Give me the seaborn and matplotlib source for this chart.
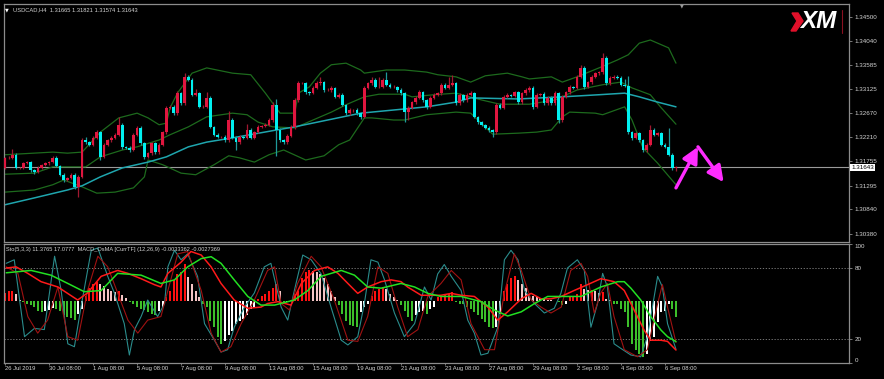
import numpy as np
import pandas as pd
import seaborn as sns
import matplotlib.pyplot as plt
from matplotlib.lines import Line2D
from matplotlib.patches import Polygon

# ---------------- price panel (USDCAD, H4) ----------------
first_open = 1.3163
close = [
    1.3182, 1.3182, 1.3188, 1.3163, 1.3163, 1.3172, 1.3174, 1.3159, 1.3155, 1.3163,
    1.3169, 1.3172, 1.3174, 1.3182, 1.3167, 1.3150, 1.3140, 1.3144, 1.3150, 1.3127,
    1.3146, 1.3216, 1.3212, 1.3207, 1.3220, 1.3231, 1.3184, 1.3207, 1.3216, 1.3220,
    1.3226, 1.3245, 1.3203, 1.3201, 1.3197, 1.3226, 1.3239, 1.3210, 1.3184, 1.3191,
    1.3210, 1.3193, 1.3207, 1.3231, 1.3277, 1.3279, 1.3267, 1.3305, 1.3286, 1.3336,
    1.3330, 1.3302, 1.3305, 1.3279, 1.3279, 1.3296, 1.3241, 1.3226, 1.3222, 1.3222,
    1.3216, 1.3254, 1.3220, 1.3212, 1.3222, 1.3220, 1.3235, 1.3220, 1.3231, 1.3241,
    1.3243, 1.3245, 1.3254, 1.3283, 1.3235, 1.3216, 1.3212, 1.3224, 1.3241, 1.3292,
    1.3324, 1.3324, 1.3307, 1.3305, 1.3315, 1.3324, 1.3326, 1.3311, 1.3311, 1.3315,
    1.3298, 1.3302, 1.3283, 1.3267, 1.3273, 1.3273, 1.3267, 1.3260, 1.3315, 1.3324,
    1.3330, 1.3317, 1.3317, 1.3330, 1.3321, 1.3317, 1.3317, 1.3311, 1.3305, 1.3269,
    1.3277, 1.3288, 1.3296, 1.3307, 1.3292, 1.3279, 1.3296, 1.3302, 1.3305, 1.3321,
    1.3315, 1.3321, 1.3324, 1.3286, 1.3302, 1.3292, 1.3302, 1.3305, 1.3260, 1.3250,
    1.3245, 1.3239, 1.3235, 1.3231, 1.3283, 1.3277, 1.3298, 1.3302, 1.3300, 1.3307,
    1.3288, 1.3305, 1.3311, 1.3315, 1.3279, 1.3302, 1.3304, 1.3286, 1.3296, 1.3286,
    1.3305, 1.3254, 1.3298, 1.3307, 1.3317, 1.3315, 1.3336, 1.3353, 1.3317, 1.3326,
    1.3336, 1.3343, 1.3345, 1.3372, 1.3324, 1.3334, 1.3336, 1.3334, 1.3321, 1.3319,
    1.3231, 1.3220, 1.3229, 1.3216, 1.3197, 1.3207, 1.3235, 1.3226, 1.3229, 1.3207,
    1.3203, 1.3188, 1.3163, 1.31643]
# wick lengths in pips above / below the candle body
wick_up = [
    2, 3, 10, 3, 2, 3, 2, 3, 2, 3, 2, 3, 2, 4, 3, 2, 3, 2, 3, 4,
    3, 4, 6, 3, 3, 4, 3, 3, 2, 3, 3, 15, 3, 2, 3, 3, 4, 3, 2, 3,
    3, 2, 3, 3, 4, 3, 3, 4, 3, 8, 4, 3, 8, 3, 3, 12, 3, 2, 3, 2,
    3, 18, 3, 3, 4, 3, 12, 3, 3, 3, 2, 3, 3, 5, 10, 3, 2, 3, 3, 4,
    4, 3, 3, 2, 3, 4, 10, 3, 3, 3, 2, 3, 3, 2, 3, 2, 3, 3, 4, 3,
    6, 3, 18, 3, 15, 3, 3, 2, 3, 3, 3, 3, 3, 4, 3, 2, 3, 3, 3, 4,
    3, 15, 15, 3, 3, 2, 3, 4, 3, 2, 3, 2, 3, 2, 4, 3, 3, 3, 2, 3,
    3, 3, 3, 4, 3, 3, 2, 3, 3, 3, 4, 3, 3, 3, 3, 2, 4, 5, 3, 3,
    3, 3, 3, 10, 3, 3, 3, 3, 3, 10, 18, 3, 3, 3, 2, 3, 10, 4, 3, 3,
    3, 35, 3, 3]
wick_dn = [
    3, 2, 3, 3, 2, 3, 2, 3, 3, 2, 3, 2, 3, 2, 3, 3, 3, 2, 3, 4,
    20, 3, 3, 3, 2, 3, 6, 3, 2, 3, 3, 3, 4, 3, 3, 2, 3, 3, 4, 3,
    3, 3, 3, 3, 3, 2, 3, 3, 3, 3, 2, 3, 3, 3, 3, 3, 3, 3, 3, 3,
    3, 3, 3, 15, 3, 3, 3, 3, 3, 2, 3, 2, 3, 3, 50, 3, 4, 3, 3, 4,
    3, 2, 3, 3, 2, 3, 3, 3, 2, 3, 3, 3, 3, 4, 3, 3, 3, 4, 3, 3,
    3, 3, 3, 3, 3, 3, 3, 3, 4, 18, 15, 3, 3, 3, 3, 4, 3, 3, 3, 3,
    3, 3, 3, 4, 3, 3, 3, 3, 3, 3, 3, 3, 4, 10, 3, 3, 3, 3, 3, 3,
    3, 3, 3, 3, 4, 3, 3, 3, 3, 3, 3, 6, 3, 3, 3, 3, 3, 3, 4, 3,
    3, 3, 3, 3, 3, 3, 3, 3, 3, 3, 3, 4, 3, 3, 4, 3, 3, 3, 3, 3,
    3, 3, 4, 5]

# Bollinger bands (20) and slow moving average, read at knots (bar index, price)
bb_up_x = [0, 13, 17, 21, 26, 31, 36, 39, 42, 44, 45, 47, 51, 55, 62, 67, 71, 75, 79, 80,
           83, 86, 89, 93, 97, 98, 104, 109, 115, 118, 123, 127, 131, 137, 141, 143, 149, 152,
           156, 162, 167, 170, 173, 176, 181, 183]
bb_up = [1.3188, 1.3193, 1.3191, 1.3193, 1.3231, 1.3258, 1.3267, 1.3258, 1.3245, 1.3248,
         1.3277, 1.3305, 1.3343, 1.3353, 1.3343, 1.3340, 1.3305, 1.3267, 1.3267, 1.3305,
         1.3317, 1.3343, 1.3359, 1.3362, 1.3349, 1.3343, 1.3349, 1.3349, 1.3345, 1.3340,
         1.3336, 1.3326, 1.3338, 1.3343, 1.3336, 1.3332, 1.3336, 1.3326, 1.3336, 1.3353,
         1.3368, 1.3378, 1.3400, 1.3406, 1.3391, 1.3362]
bb_mid_x = [0, 8, 13, 22, 26, 32, 36, 42, 45, 50, 55, 62, 66, 69, 73, 79, 84, 89, 93, 98,
            102, 109, 111, 117, 123, 130, 135, 143, 150, 156, 163, 168, 171, 176, 179, 183]
bb_mid = [1.3151, 1.3153, 1.3165, 1.3165, 1.3184, 1.3197, 1.3203, 1.3216, 1.3226, 1.3241,
          1.3260, 1.3267, 1.3264, 1.3250, 1.3241, 1.3239, 1.3254, 1.3269, 1.3283, 1.3298,
          1.3303, 1.3303, 1.3298, 1.3302, 1.3305, 1.3292, 1.3284, 1.3284, 1.3292, 1.3311,
          1.3321, 1.3326, 1.3315, 1.3302, 1.3277, 1.3246]
bb_lo_x = [0, 8, 13, 16, 21, 25, 30, 35, 38, 39, 43, 48, 52, 57, 61, 64, 68, 72, 76, 82,
           87, 91, 94, 98, 100, 106, 109, 115, 123, 127, 133, 140, 145, 149, 152, 154, 161,
           163, 169, 171, 174, 178, 183]
bb_lo = [1.3117, 1.3121, 1.3131, 1.3140, 1.3127, 1.3115, 1.3117, 1.3125, 1.3146, 1.3178,
         1.3169, 1.3153, 1.3150, 1.3169, 1.3186, 1.3182, 1.3174, 1.3188, 1.3197, 1.3178,
         1.3186, 1.3207, 1.3216, 1.3258, 1.3258, 1.3254, 1.3254, 1.3264, 1.3269, 1.3267,
         1.3227, 1.3229, 1.3231, 1.3235, 1.3260, 1.3269, 1.3267, 1.3264, 1.3279, 1.3254,
         1.3201, 1.3172, 1.3131]
ma_x = [0, 8, 17, 21, 26, 32, 39, 44, 50, 55, 62, 74, 79, 88, 97, 106, 115, 123, 127, 140,
        152, 162, 169, 173, 178, 183]
ma = [1.3093, 1.3106, 1.3121, 1.3129, 1.3146, 1.3163, 1.3174, 1.3184, 1.3203, 1.3212,
      1.3220, 1.3235, 1.3241, 1.3254, 1.3267, 1.3273, 1.3279, 1.3288, 1.3296, 1.3294,
      1.3298, 1.3302, 1.3305, 1.3298, 1.3288, 1.3279]

last_price = 1.31643
price_ticks = [1.34500, 1.34040, 1.33585, 1.33125, 1.32670, 1.32210, 1.31755, 1.31295, 1.30840, 1.30380]
arrow_pts = [(183, 1.3125), (189, 1.3203), (196, 1.3136)]

# ---------------- oscillator panel ----------------
osma_zero = 52.5
osma = [
    6, 8, 8.5, 5.5, 0.5, -1.5, -2.5, -3.5, -5, -9, -10, -9, -8, -6, -7, -9, -12, -14, -15, -16,
    -11, -7, 4, 11, 14, 15.5, 14, 12, 10, 8, 7, 8, 5, 2, -1, -3, -5, -7, -8, -10,
    -11, -12, -9, -5, 3, 8, 17, 22.5, 24, 31, 20, 14, 8.5, 3, -3, -5.5, -17, -22.5, -31, -36.5,
    -34, -29.5, -25.5, -19.5, -17, -15.5, -12.5, -7, -5.5, 1.5, 4, 5.5, 8.5, 11, 14, 8.5, -3, -1.5, 0.3, 5.5,
    8, 19.5, 24, 25.5, 25, 24, 22.5, 19.5, 14, 8.5, 3, -4, -11, -17, -21, -21.5, -22, -10, -5, -3,
    4, 8.5, 10, 11.3, 10, 5.5, 3, 0.5, -4, -8.5, -14, -17, -12.5, -10, -8.5, -11, -7, -5.5, 3, 4,
    5, 5.5, 7, -1.5, -2.8, -3, -5.5, -7, -10, -12.5, -15.5, -18.5, -22, -23, -22.5, -11, 8.5, 14, 19.5, 21,
    17, 14, 11, 5.5, 4, 3, 2, 1.5, 0.5, 0.2, -0.5, -1.5, -3.5, -2.8, 2.8, 4, 5.5, 14, 10, 9,
    9.2, 8.5, 6, 7, 1.5, 0.6, -3, -3.2, -7, -10, -22.5, -36.5, -42, -45, -48, -45, -34, -31, -18, -10,
    -9, -3, -7, -14]

sto_main_x = [0.3, 2.5, 5.3, 8, 10.7, 13.5, 15.3, 17.1, 18.9, 20.7, 23.5, 25.3, 28, 29.8, 32.5, 33.9,
              35.3, 37.1, 38.9, 41.6, 43.5, 44.4, 46.2, 48, 49.8, 52.5, 54.4, 57.1, 58.9, 60.7, 62.5,
              65.3, 68, 70.7, 72.5, 75.3, 77.1, 78.9, 81.2, 83.5, 86.2, 88.9, 91.7, 93.5, 96.2, 98,
              99.8, 101.7, 103.5, 106.2, 108.9, 111.7, 114.4, 116.2, 118, 119.8, 121.7, 124.4, 126.2,
              128, 129.8, 131.7, 134.4, 136.2, 138, 139.9, 141.7, 144.4, 147.1, 149.8, 151.6, 153.4,
              156.1, 158, 159.8, 161.6, 163, 164.3, 166.1, 168, 170.7, 173.4, 175.2, 178, 179.3,
              180.7, 183]
sto_main = [84, 87, 22, 29, 28, 90, 61, 16, 13.5, 47, 95, 97, 73, 59, 33, 6.5,
            28, 39, 53, 39, 50, 81, 95, 87, 92, 73, 33, 19, 9, 11, 30,
            47, 59, 81, 84, 47, 36, 61, 91, 87, 75, 47, 19, 15, 22, 50,
            87, 85, 70, 42, 22, 33, 64, 53, 75, 83, 73, 61, 36,
            25, 6.5, 8, 30, 87, 95, 87, 61, 50, 42, 46, 58.6, 80,
            87, 78, 30, 50, 75.5, 64, 16, 12, 6.5, 5, 22, 73, 64,
            33, 11.4]
sto_sig_x = [0.3, 3.5, 6.2, 8.9, 11.6, 14.4, 17.1, 19.8, 22.5, 25.3, 28, 30.7, 33.5, 36.2, 38.9, 42.5,
             44.4, 47.1, 49.8, 53.5, 56.2, 58.9, 61.6, 64.4, 68, 71.6, 73.5, 75.3, 77.6, 79.8, 83.5,
             86.2, 89.8, 93.5, 96.2, 98.9, 101.7, 104.4, 107.1, 109.8, 112.6, 115.3, 118.9, 121.7,
             124.4, 127.1, 130.8, 133.5, 136.2, 138.9, 140.8, 143.5, 146.2, 148.9, 151.7, 154.3,
             157.1, 158.9, 160.7, 162.5, 164.3, 166.1, 168.9, 172.5, 175.2, 178, 179.3, 180.7, 183]
sto_sig = [81, 75.5, 39, 25, 36, 64, 22, 19, 61, 90, 81, 59, 36, 25, 36, 39,
           61, 92, 94, 61, 25, 9, 13.5, 33, 53, 78, 81, 50, 44.5, 67, 90,
           81, 53, 19, 18, 39, 81, 75.5, 47, 22, 28, 56, 67, 78,
           70, 33, 11, 11, 59, 92, 78, 53, 47, 42, 47, 78,
           84, 73, 42, 59, 67, 39, 11, 5, 11, 50, 66, 47, 17.1]
macd_red_x = [0.3, 3, 6.2, 9.8, 14.4, 19.8, 22.5, 26.2, 30.7, 33.5, 37.1, 40.7, 42.5, 44.4, 48, 50.7,
              53.5, 56.2, 58.9, 62.5, 66.2, 69.8, 71.6, 74.4, 78, 80.8, 84.4, 88, 90.8, 93.5, 96.2,
              98.9, 102.6, 105.3, 108, 109.8, 113.5, 118.9, 121.7, 124.4, 128, 131.7, 134.4, 137.1,
              140.8, 143.5, 146.2, 148.9, 151.7, 155.2, 158.9, 162.5, 166.1, 168.9, 171.6, 174.3,
              176.1, 178.9, 180.7, 183]
macd_red = [80, 81, 75.5, 68.5, 64, 53, 59, 73, 78, 75.5, 71, 66, 64, 75.5, 85, 94,
            91, 81, 67, 53, 46, 47, 50, 51.6, 48.7, 67, 78, 81, 75.5, 67, 58.6,
            64, 68.5, 70, 68.5, 64, 57, 57, 58.6, 57, 56, 47, 36, 43,
            54, 58.6, 54, 54, 56, 61, 66, 71, 68.5, 61, 44.5, 27.6,
            19, 19, 18, 10.7]
macd_green_x = [0.3, 7.1, 12.5, 17.1, 21.6, 26.2, 30.7, 37.1, 42.5, 46.2, 49.8, 53.5, 56.2, 58.9,
                62.5, 66.2, 69.8, 73.5, 78.9, 82.6, 86.2, 91.7, 95.3, 98.9, 102.6, 108, 111.7,
                115.3, 118.9, 124.4, 129.8, 133.5, 137.1, 140.8, 144.4, 148, 151.6, 157.1, 162.5,
                167.1, 168.9, 170.7, 173.4, 176.1, 178.9, 180.7, 183]
macd_green = [76, 78, 74, 67, 60, 61, 75.5, 74, 67, 70, 81, 88, 89.6, 84,
              70, 56, 48.7, 48.7, 53, 61, 73, 78, 74, 64, 63, 67, 64,
              58.6, 56, 56, 51.6, 44.5, 39.5, 43, 50, 56, 56, 56, 64,
              68.5, 68.5, 63, 53, 39, 27.6, 22, 17.8]

date_labels = ["26 Jul 2019", "30 Jul 08:00", "1 Aug 08:00", "5 Aug 08:00", "7 Aug 08:00",
               "9 Aug 08:00", "13 Aug 08:00", "15 Aug 08:00", "19 Aug 08:00", "21 Aug 08:00",
               "23 Aug 08:00", "27 Aug 08:00", "29 Aug 08:00", "2 Sep 08:00", "4 Sep 08:00",
               "6 Sep 08:00"]
date_bars = list(range(0, 12 * len(date_labels), 12))

# ---------------- colours ----------------
BULL, BEAR = "#e0163f", "#00f0f0"
BULL_WICK, BEAR_WICK = "#a01830", "#1f9a9a"
BAND, MA = "#1d6a1d", "#1fa6ae"
FRAME, TXT = "#8c8c8c", "#d4d4d4"

sns.set_theme(style="dark", rc={"axes.facecolor": "black", "figure.facecolor": "black"})
plt.rcParams['font.family'] = ['Liberation Sans', 'DejaVu Sans']

W, H = 884, 379
fig = plt.figure(figsize=(W / 100, H / 100), dpi=100)


def box(x0, y0, x1, y1):
    return [x0 / W, 1 - y1 / H, (x1 - x0) / W, (y1 - y0) / H]


ax = fig.add_axes(box(4, 4, 849, 242))
ax2 = fig.add_axes(box(4, 244.4, 849, 362.7))

# candles
df = pd.DataFrame({"close": close, "wu": wick_up, "wd": wick_dn})
df["bar"] = np.arange(len(df))
df["open"] = df["close"].shift(1).fillna(first_open)
df["top"] = df[["open", "close"]].max(axis=1)
df["bot"] = df[["open", "close"]].min(axis=1)
df["high"] = df["top"] + df["wu"] * 1e-4
df["low"] = df["bot"] - df["wd"] * 1e-4
up = df["close"] >= df["open"]
df["col"] = np.where(up, BULL, BEAR)
df["wcol"] = np.where(up, BULL_WICK, BEAR_WICK)

ax.axhline(last_price, color="#9a9a9a", lw=0.8, zorder=1)
for xs, ys in [(bb_up_x, bb_up), (bb_mid_x, bb_mid), (bb_lo_x, bb_lo)]:
    sns.lineplot(x=xs, y=ys, ax=ax, color=BAND, lw=0.9, estimator=None, sort=False, zorder=2)
sns.lineplot(x=ma_x, y=ma, ax=ax, color=MA, lw=1.1, estimator=None, sort=False, zorder=2)
ax.vlines(df["bar"], df["low"], df["high"], colors=df["wcol"], lw=0.9, zorder=3)
ax.bar(df["bar"], np.maximum(df["top"] - df["bot"], 0.00005), bottom=df["bot"],
       width=0.7, color=df["col"], linewidth=0, zorder=4)

for a, b in [(arrow_pts[0], arrow_pts[1]), (arrow_pts[1], arrow_pts[2])]:
    ax.annotate("", xy=b, xytext=a,
                arrowprops=dict(arrowstyle="-|>,head_length=0.8,head_width=0.4",
                                color="#ff2cff", lw=2.4, shrinkA=0, shrinkB=0), zorder=6)

ax.text(1.0025, last_price, f"{last_price:.5f}", transform=ax.get_yaxis_transform(),
        fontsize=4.5, color="black", va="center", ha="left",
        bbox=dict(boxstyle="square,pad=0.15", fc="white", ec="none"))

# oscillators
h = np.array(osma, dtype=float)
prev = np.r_[h[0], h[:-1]]
hcol = np.where(h >= 0, np.where(h >= prev, "#ff1010", "#f4c4c4"),
                np.where(h < prev, "#3cbf2a", "#ffffff"))
ax2.bar(np.arange(len(h)), h, bottom=osma_zero, width=0.58, color=hcol, linewidth=0, zorder=2)
for lvl in (20, 80):
    ax2.axhline(lvl, color="#8a8a8a", lw=0.6, ls=(0, (1.5, 2)), zorder=1)
sns.lineplot(x=sto_main_x, y=sto_main, ax=ax2, color="#2a8c8c", lw=0.8, estimator=None, sort=False, zorder=3)
sns.lineplot(x=sto_sig_x, y=sto_sig, ax=ax2, color="#a01212", lw=0.8, estimator=None, sort=False, zorder=3)
sns.lineplot(x=macd_red_x, y=macd_red, ax=ax2, color="#ff1a1a", lw=1.1, estimator=None, sort=False, zorder=4)
sns.lineplot(x=macd_green_x, y=macd_green, ax=ax2, color="#22e022", lw=1.1, estimator=None, sort=False, zorder=5)

# axes styling
for a in (ax, ax2):
    a.set_xlim(-0.3, 230.2)
    a.grid(False)
    a.set_xlabel("")
    a.set_ylabel("")
    for s in a.spines.values():
        s.set_color(FRAME)
        s.set_linewidth(0.9)
    a.yaxis.tick_right()
    a.tick_params(axis="y", labelcolor=TXT, color=FRAME, labelsize=4.5, length=2.5,
                  width=0.6, pad=1.5, right=True, left=False)

ax.set_ylim(1.30222, 1.34744)
ax.set_yticks(price_ticks)
ax.set_yticklabels([f"{t:.5f}" for t in price_ticks])
ax.set_xticks([])

ax2.set_ylim(0, 100)
ax2.set_yticks([0, 20, 80, 100])
ax2.set_yticklabels(["0", "20", "80", "100"])
ylabs = ax2.get_yticklabels()
ylabs[0].set_va("bottom")
ylabs[3].set_va("top")
ax2.set_xticks(date_bars)
ax2.set_xticklabels(date_labels, ha="left")
ax2.tick_params(axis="x", labelcolor=TXT, color=FRAME, labelsize=4.2, length=1.5,
                width=0.6, pad=0.8, bottom=True)

# header texts and logo
fig.text(7 / W, 1 - 10 / H, "▼", color="white", fontsize=3.5, va="center", ha="center",
         family="DejaVu Sans")
fig.text(13 / W, 1 - 10 / H, "USDCAD,H4  1.31665 1.31821 1.31574 1.31643", color=TXT,
         fontsize=4.15, va="center", ha="left")
fig.text(6 / W, 1 - 249 / H,
         "Sto(5,3,3) 11.3765 17.0777  MACD_OsMA [CurrTF] (12,26,9) -0.0033362 -0.0027369",
         color=TXT, fontsize=4.1, va="center", ha="left")
fig.text(682 / W, 1 - 6 / H, "▼", color="#9a9a9a", fontsize=3.5, va="center", ha="center",
         family="DejaVu Sans")
fig.text(818 / W, 1 - 22 / H, "XM", color="white", fontsize=17.5, fontweight="bold",
         fontstyle="italic", va="center", ha="center")
fig.add_artist(Polygon([[792 / W, 1 - 13 / H], [798 / W, 1 - 13 / H], [803 / W, 1 - 21 / H],
                        [796 / W, 1 - 31 / H], [791 / W, 1 - 31 / H], [797 / W, 1 - 21 / H]],
                       closed=True, transform=fig.transFigure, color="#e0102a"))
fig.add_artist(Line2D([842 / W, 842 / W], [1 - 10 / H, 1 - 33 / H], transform=fig.transFigure,
                      color="#8a1020", lw=0.8))

fig.savefig("out.png", dpi=100, facecolor="black")
